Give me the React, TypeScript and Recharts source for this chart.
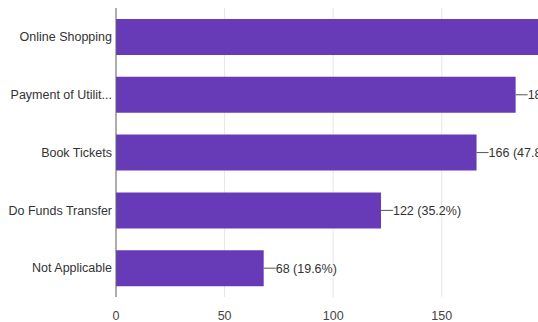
import { BarChart, Bar, XAxis, YAxis, CartesianGrid, LabelList } from "recharts";

// answers to a multi-choice question
const categories = [
  "Online Shopping",
  "Payment of Utility Bills",
  "Book Tickets",
  "Do Funds Transfer",
  "Not Applicable",
];
const counts = [228, 184, 166, 122, 68];
const respondents = 347;
const xTicks = [0, 50, 100, 150, 200, 250];

const data = categories.map((name, i) => ({ name, count: counts[i] }));

const FONT = "'Liberation Sans', Arial, sans-serif";

function shortName(v: string) {
  return v.length > 17 ? v.slice(0, 17) + "..." : v;
}

// single-line category tick (no wrapping)
function CategoryTick(props: any) {
  const { x, y, payload } = props;
  return (
    <text
      x={x}
      y={y}
      dy="0.35em"
      textAnchor="end"
      fontSize={12.5}
      fontFamily={FONT}
      fill="#333"
    >
      {shortName(String(payload.value))}
    </text>
  );
}

// leader line + "166 (47.8%)"
function CountLabel(props: any) {
  const { x, y, width, height, value } = props;
  const endX = Number(x) + Number(width);
  const midY = Number(y) + Number(height) / 2;
  const pct = ((Number(value) / respondents) * 100).toFixed(1);
  return (
    <g>
      <line x1={endX} y1={midY} x2={endX + 12} y2={midY} stroke="#555" strokeWidth={1} />
      <text
        x={endX + 12}
        y={midY}
        dy="0.35em"
        fontSize={12.5}
        fontFamily={FONT}
        fill="#333"
      >
        {`${value} (${pct}%)`}
      </text>
    </g>
  );
}

export default function App() {
  return (
    <div
      style={{
        position: "fixed",
        top: 0,
        left: 0,
        width: 538,
        height: 322,
        overflow: "hidden",
        background: "#fff",
      }}
    >
      <BarChart
        width={760}
        height={322}
        data={data}
        layout="vertical"
        barCategoryGap="19%"
        margin={{ top: 8, right: 101, left: 0, bottom: 0 }}
      >
        <CartesianGrid stroke="#e6e6e6" horizontal={false} />
        <XAxis
          type="number"
          domain={[0, 250]}
          ticks={xTicks}
          axisLine={false}
          tickLine={false}
          height={25}
          tickMargin={8}
          tick={{ fontSize: 12.5, fill: "#444", fontFamily: FONT }}
        />
        <YAxis
          type="category"
          dataKey="name"
          width={116}
          axisLine={{ stroke: "#666" }}
          tickLine={false}
          tickSize={2}
          tickMargin={2}
          tick={<CategoryTick />}
        />
        <Bar dataKey="count" fill="#673ab7" isAnimationActive={false}>
          <LabelList dataKey="count" content={<CountLabel />} />
        </Bar>
      </BarChart>
    </div>
  );
}
